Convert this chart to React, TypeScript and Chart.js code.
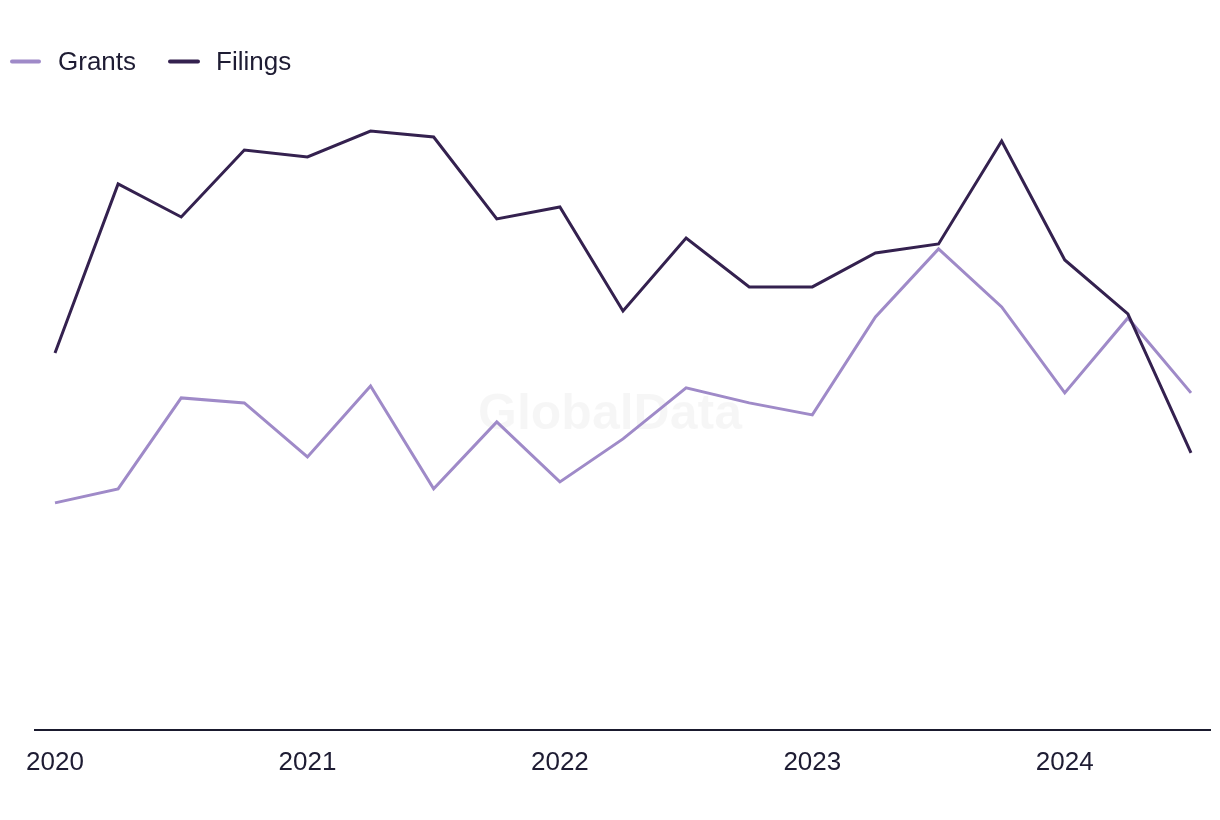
import React, { useEffect, useRef } from "react";
import { Chart, registerables } from "chart.js";

Chart.register(...registerables);

const categories = [
  "2020 Q1", "2020 Q2", "2020 Q3", "2020 Q4",
  "2021 Q1", "2021 Q2", "2021 Q3", "2021 Q4",
  "2022 Q1", "2022 Q2", "2022 Q3", "2022 Q4",
  "2023 Q1", "2023 Q2", "2023 Q3", "2023 Q4",
  "2024 Q1", "2024 Q2", "2024 Q3",
];

const grants = [22.7, 24.1, 33.2, 32.7, 27.3, 34.4, 24.1, 30.8, 24.8, 29.1, 34.2, 32.7, 31.5, 41.3, 48.1, 42.3, 33.7, 41.2, 33.7];
const filings = [37.7, 54.6, 51.3, 58.0, 57.3, 59.9, 59.3, 51.1, 52.3, 41.9, 49.2, 44.3, 44.3, 47.7, 48.6, 58.9, 47.0, 41.6, 27.7];

const tickLabels = ["2020", "2021", "2022", "2023", "2024"];
const tickIndexes = [0, 4, 8, 12, 16];

const seriesNames = ["Grants", "Filings"];
const seriesColors = ["#9f8ac8", "#34214f"];

const TEXT_COLOR = "#1e1c33";
const FONT = '"Liberation Sans", Arial, sans-serif';

const legendPlugin = {
  id: "customLegend",
  afterDraw(chart: any) {
    const ctx = chart.ctx;
    ctx.save();
    const items = [
      { x1: 12, x2: 39, tx: 58 },
      { x1: 170, x2: 198, tx: 216 },
    ];
    items.forEach((it, i) => {
      ctx.beginPath();
      ctx.strokeStyle = seriesColors[i];
      ctx.lineWidth = 4;
      ctx.lineCap = "round";
      ctx.moveTo(it.x1, 61.5);
      ctx.lineTo(it.x2, 61.5);
      ctx.stroke();
      ctx.fillStyle = TEXT_COLOR;
      ctx.font = `26px ${FONT}`;
      ctx.textBaseline = "alphabetic";
      ctx.textAlign = "left";
      ctx.fillText(seriesNames[i], it.tx, 70);
    });
    ctx.restore();
  },
};

const watermarkPlugin = {
  id: "watermark",
  beforeDatasetsDraw(chart: any) {
    const ctx = chart.ctx;
    ctx.save();
    ctx.fillStyle = "rgba(0,0,0,0.035)";
    ctx.font = `bold 50px ${FONT}`;
    ctx.textAlign = "center";
    ctx.textBaseline = "alphabetic";
    ctx.fillText("GlobalData", 610, 429);
    ctx.restore();
  },
};

export default function App() {
  const canvasRef = useRef<HTMLCanvasElement | null>(null);

  useEffect(() => {
    if (!canvasRef.current) return;
    const chart = new Chart(canvasRef.current, {
      type: "line",
      data: {
        datasets: [
          {
            label: seriesNames[0],
            data: grants.map((v, i) => ({ x: i, y: v })),
            borderColor: seriesColors[0],
            backgroundColor: seriesColors[0],
            borderWidth: 3,
            pointRadius: 0,
            tension: 0,
            order: 1,
          },
          {
            label: seriesNames[1],
            data: filings.map((v, i) => ({ x: i, y: v })),
            borderColor: seriesColors[1],
            backgroundColor: seriesColors[1],
            borderWidth: 3,
            pointRadius: 0,
            tension: 0,
            order: 0,
          },
        ],
      },
      options: {
        responsive: false,
        animation: false,
        layout: { padding: { top: 100, right: 10, bottom: 25, left: 0 } },
        plugins: {
          legend: { display: false },
          tooltip: { enabled: false },
        },
        scales: {
          x: {
            type: "linear",
            min: -20 / 63.11,
            max: categories.length - 1 + 19 / 63.11,
            afterBuildTicks: (scale: any) => {
              scale.ticks = tickIndexes.map((v) => ({ value: v }));
            },
            grid: { display: false, drawTicks: false },
            border: { display: true, color: "#1a1a2e", width: 2 },
            ticks: {
              autoSkip: false,
              maxRotation: 0,
              padding: 17,
              color: TEXT_COLOR,
              font: { family: FONT, size: 26 },
              callback: (value: any) => {
                const idx = tickIndexes.indexOf(Number(value));
                return idx >= 0 ? tickLabels[idx] : "";
              },
            },
          },
          y: {
            min: 0,
            max: 63,
            afterFit: (scale: any) => {
              scale.width = 35;
            },
            grid: { display: false, drawTicks: false },
            border: { display: false },
            ticks: { display: false },
          },
        },
      },
      plugins: [legendPlugin, watermarkPlugin],
    } as any);
    return () => chart.destroy();
  }, []);

  return (
    <div style={{ position: "absolute", left: 0, top: 0, width: 1220, height: 820, background: "#fff" }}>
      <canvas ref={canvasRef} width={1220} height={820} style={{ display: "block" }} />
    </div>
  );
}
